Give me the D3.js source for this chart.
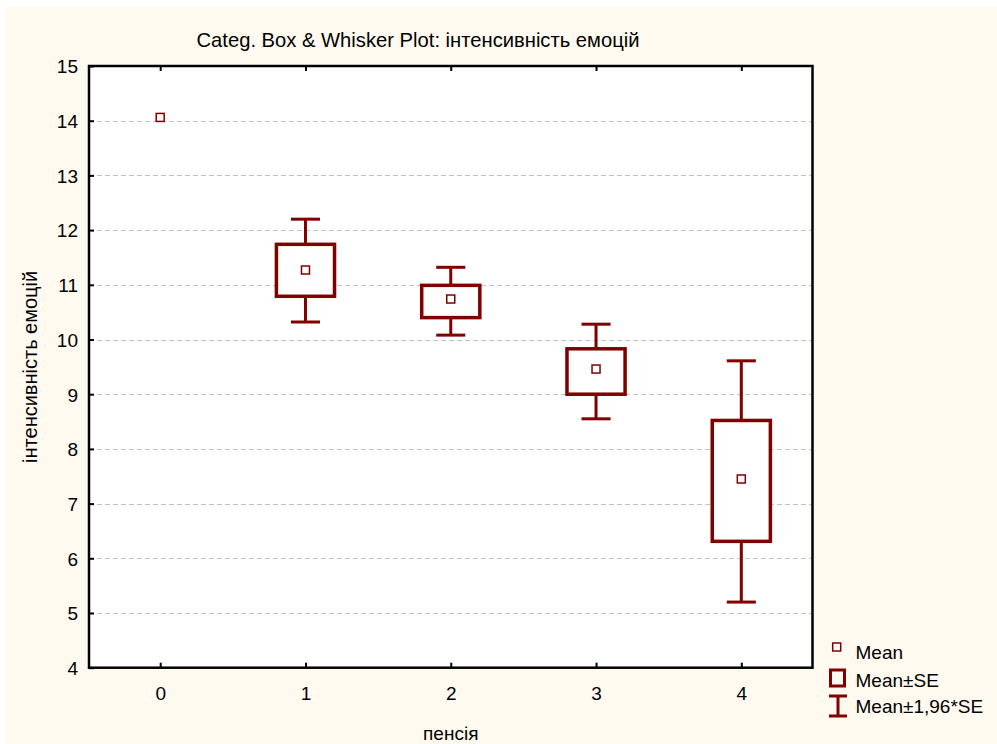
<!DOCTYPE html>
<html>
<head>
<meta charset="utf-8">
<script src="https://cdn.jsdelivr.net/npm/d3@7"></script>
<style>
  html, body { margin: 0; padding: 0; background: #ffffff; }
  svg { display: block; }
  text { font-family: "Liberation Sans", Arial, sans-serif; fill: #000; }
</style>
</head>
<body>
<svg id="chart" width="997" height="744"></svg>
<script>
// ---- data ----
const categories = ["0", "1", "2", "3", "4"];
const means  = [14.06, 11.27, 10.74, 9.46, 7.45];
const seLow  = [null, 10.79, 10.40, 9.00, 6.31];
const seHigh = [null, 11.74, 10.99, 9.83, 8.52];
const ciLow  = [null, 10.32, 10.08, 8.55, 5.20];
const ciHigh = [null, 12.20, 11.32, 10.28, 9.61];
const yTicks = [4, 5, 6, 7, 8, 9, 10, 11, 12, 13, 14, 15];
const legendLabels = ["Mean", "Mean±SE", "Mean±1,96*SE"];
const titleText = "Categ. Box & Whisker Plot: інтенсивність емоцій";
const xTitle = "пенсія";
const yTitle = "інтенсивність емоцій";

// ---- layout ----
const W = 997, H = 744;
const plot = { left: 89, right: 812.5, top: 66, bottom: 667.7 };
const maroon = "#800000";

const svg = d3.select("#chart");
svg.append("rect").attr("x", 0).attr("y", 0).attr("width", W).attr("height", H).attr("fill", "#ffffff");
svg.append("rect").attr("x", 5).attr("y", 7).attr("width", W - 5).attr("height", H - 7).attr("fill", "#fffaf0");

const x = d3.scalePoint().domain(categories).range([plot.left, plot.right]).padding(0.49);
const y = d3.scaleLinear().domain([4, 15]).range([plot.bottom, plot.top]);
const step = x.step();

// plot background
svg.append("rect")
  .attr("x", plot.left).attr("y", plot.top)
  .attr("width", plot.right - plot.left).attr("height", plot.bottom - plot.top)
  .attr("fill", "#ffffff");

// gridlines
svg.append("g").selectAll("line")
  .data(yTicks.filter(d => d > 4 && d < 15))
  .join("line")
  .attr("x1", plot.left).attr("x2", plot.right)
  .attr("y1", d => Math.round(y(d)) + 0.5).attr("y2", d => Math.round(y(d)) + 0.5)
  .attr("stroke", "#c4c4c4").attr("stroke-width", 1)
  .attr("stroke-dasharray", "5,3");

// boxes & whiskers
const idx = d3.range(categories.length).filter(i => seLow[i] != null);
const gB = svg.append("g");
const boxW = step * 0.4, capW = step * 0.2;
idx.forEach(i => {
  const cx = x(categories[i]);
  // whiskers
  gB.append("line").attr("x1", cx).attr("x2", cx)
    .attr("y1", y(ciHigh[i])).attr("y2", y(seHigh[i]))
    .attr("stroke", maroon).attr("stroke-width", 3);
  gB.append("line").attr("x1", cx).attr("x2", cx)
    .attr("y1", y(seLow[i])).attr("y2", y(ciLow[i]))
    .attr("stroke", maroon).attr("stroke-width", 3);
  [ciHigh[i], ciLow[i]].forEach(v => {
    gB.append("line").attr("x1", cx - capW / 2).attr("x2", cx + capW / 2)
      .attr("y1", y(v)).attr("y2", y(v))
      .attr("stroke", maroon).attr("stroke-width", 3);
  });
  gB.append("rect")
    .attr("x", cx - boxW / 2).attr("y", y(seHigh[i]))
    .attr("width", boxW).attr("height", y(seLow[i]) - y(seHigh[i]))
    .attr("fill", "#ffffff").attr("stroke", maroon).attr("stroke-width", 3.5);
});

// means
svg.append("g").selectAll("rect")
  .data(d3.range(categories.length))
  .join("rect")
  .attr("x", i => x(categories[i]) - 4).attr("y", i => y(means[i]) - 4)
  .attr("width", 8).attr("height", 8)
  .attr("fill", "#ffffff").attr("stroke", maroon).attr("stroke-width", 1.5);

// axes
const yAxis = d3.axisLeft(y).tickValues(yTicks).tickFormat(d3.format("d"))
  .tickSize(-5).tickPadding(11);
const gy = svg.append("g").attr("transform", `translate(${plot.left},0)`).call(yAxis);
const xAxis = d3.axisBottom(x).tickSize(-5).tickPadding(19);
const gx = svg.append("g").attr("transform", `translate(0,${plot.bottom})`).call(xAxis);
const xTop = d3.axisTop(x).tickSize(-5).tickFormat("");
const gxt = svg.append("g").attr("transform", `translate(0,${plot.top})`).call(xTop);
[gy, gx, gxt].forEach(g => {
  g.select(".domain").remove();
  g.selectAll(".tick line").attr("stroke", "#000").attr("stroke-width", 2);
  g.selectAll(".tick text").attr("font-size", 19).attr("font-family", "Liberation Sans, Arial, sans-serif").attr("fill", "#000");
});
gy.selectAll(".tick text").attr("dy", "0.36em");

// frame
svg.append("rect")
  .attr("x", plot.left).attr("y", plot.top)
  .attr("width", plot.right - plot.left).attr("height", plot.bottom - plot.top)
  .attr("fill", "none").attr("stroke", "#000").attr("stroke-width", 2.5);

// titles
svg.append("text").attr("x", 418).attr("y", 47).attr("text-anchor", "middle")
  .attr("font-size", 21).attr("textLength", 443).attr("lengthAdjust", "spacingAndGlyphs")
  .text(titleText);
svg.append("text").attr("x", (plot.left + plot.right) / 2).attr("y", 740).attr("text-anchor", "middle")
  .attr("font-size", 19).text(xTitle);
svg.append("text")
  .attr("transform", `translate(37,${(plot.top + plot.bottom) / 2}) rotate(-90)`)
  .attr("text-anchor", "middle").attr("font-size", 20).text(yTitle);

// legend
const lg = svg.append("g");
lg.append("rect").attr("x", 832.7).attr("y", 643).attr("width", 8).attr("height", 8)
  .attr("fill", "#ffffff").attr("stroke", maroon).attr("stroke-width", 1.5);
lg.append("rect").attr("x", 830.5).attr("y", 670).attr("width", 14).attr("height", 16)
  .attr("fill", "none").attr("stroke", maroon).attr("stroke-width", 3);
lg.append("line").attr("x1", 838).attr("x2", 838).attr("y1", 696).attr("y2", 716)
  .attr("stroke", maroon).attr("stroke-width", 3);
lg.append("line").attr("x1", 829).attr("x2", 847).attr("y1", 696).attr("y2", 696)
  .attr("stroke", maroon).attr("stroke-width", 3);
lg.append("line").attr("x1", 829).attr("x2", 847).attr("y1", 716).attr("y2", 716)
  .attr("stroke", maroon).attr("stroke-width", 3);
const legY = [659, 686.5, 713];
lg.selectAll("text").data(legendLabels).join("text")
  .attr("x", 855.5).attr("y", (d, i) => legY[i])
  .attr("font-size", 19).text(d => d);
</script>
</body>
</html>
